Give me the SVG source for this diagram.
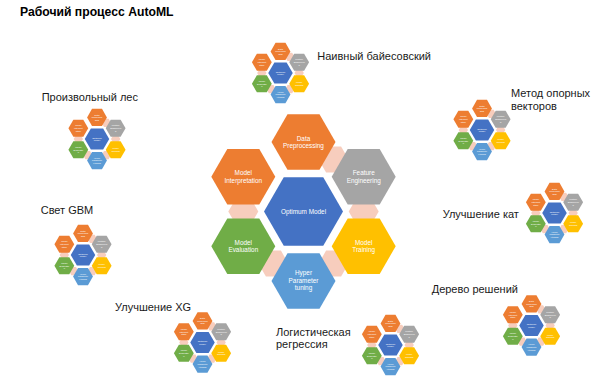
<svg xmlns="http://www.w3.org/2000/svg" xmlns:xlink="http://www.w3.org/1999/xlink" width="600" height="388" viewBox="0 0 600 388">
<style>
.t{font-family:"Liberation Sans",Arial,sans-serif;fill:#fff;text-anchor:middle;font-size:6.4px}
.m{font-family:"Liberation Sans",Arial,sans-serif;fill:#fff;text-anchor:middle;font-size:7.5px}
.lbl{font-family:"Liberation Sans",Arial,sans-serif;fill:#1a1a1a;font-size:11px}
.title{font-family:"Liberation Sans",Arial,sans-serif;font-weight:bold;font-size:12.2px;fill:#000}
.cn{fill:#F7CDBD}
.or{fill:#ED7D31}.gy{fill:#A5A5A5}.ye{fill:#FFC000}.lb{fill:#5B9BD5}.gr{fill:#70AD47}.db{fill:#4472C4}
</style>
<defs>
<path id="hx" d="M-32,0L-16,-27.7L16,-27.7L32,0L16,27.7L-16,27.7Z"/>
<path id="hc" d="M-39.5,0L-19.75,-34.2L19.75,-34.2L39.5,0L19.75,34.2L-19.75,34.2Z"/>
<path id="hs" d="M-15,0L-7.5,-13L7.5,-13L15,0L7.5,13L-7.5,13Z"/>
<g id="mini">
<use href="#hs" class="cn" x="30.1" y="-52.1"/>
<use href="#hs" class="cn" x="60.2" y="0"/>
<use href="#hs" class="cn" x="30.1" y="52.1"/>
<use href="#hs" class="cn" x="-30.1" y="52.1"/>
<use href="#hs" class="cn" x="-60.2" y="0"/>
<use href="#hx" class="or" x="0" y="-69.5"/>
<use href="#hx" class="gy" x="60.2" y="-34.75"/>
<use href="#hx" class="ye" x="60.2" y="34.75"/>
<use href="#hx" class="lb" x="0" y="69.5"/>
<use href="#hx" class="gr" x="-60.2" y="34.75"/>
<use href="#hx" class="or" x="-60.2" y="-34.75"/>
<use href="#hc" class="db"/>
<text class="m" x="0" y="-75.3">Data</text><text class="m" x="0" y="-66.8">Preproces</text><text class="m" x="0" y="-58.3">sing</text>
<text class="m" x="60.2" y="-40.5">Feature</text><text class="m" x="60.2" y="-32">Engineerin</text><text class="m" x="60.2" y="-23.5">g</text>
<text class="m" x="60.2" y="33.2">Model</text><text class="m" x="60.2" y="41.7">Training</text>
<text class="m" x="0" y="63.7">Hyper</text><text class="m" x="0" y="72.2">Paramete</text><text class="m" x="0" y="80.7">r tuning</text>
<text class="m" x="-60.2" y="29">Model</text><text class="m" x="-60.2" y="37.5">Evaluatio</text><text class="m" x="-60.2" y="46">n</text>
<text class="m" x="-60.2" y="-40.5">Model</text><text class="m" x="-60.2" y="-32">Interpret</text><text class="m" x="-60.2" y="-23.5">ation</text>
<text class="m" x="0" y="-1.5">Optimum</text><text class="m" x="0" y="7">Model</text>
</g>
</defs>
<rect width="600" height="388" fill="#fff"/>
<text class="title" x="20" y="15.7">Рабочий процесс AutoML</text>

<g id="connectors">
<use href="#hs" class="cn" x="333.6" y="159.4"/>
<use href="#hs" class="cn" x="363.7" y="211.5"/>
<use href="#hs" class="cn" x="333.6" y="263.6"/>
<use href="#hs" class="cn" x="273.4" y="263.6"/>
<use href="#hs" class="cn" x="243.3" y="211.5"/>
</g>

<g id="node-data" transform="translate(303.5,142)"><use href="#hx" class="or"/><text class="t" y="-1.4">Data</text><text class="t" y="6">Preprocessing</text></g>
<g id="node-feature" transform="translate(363.7,176.75)"><use href="#hx" class="gy"/><text class="t" y="-1.4">Feature</text><text class="t" y="6">Engineering</text></g>
<g id="node-training" transform="translate(363.7,246.25)"><use href="#hx" class="ye"/><text class="t" y="-1.4">Model</text><text class="t" y="6">Training</text></g>
<g id="node-hyper" transform="translate(303.5,281)"><use href="#hx" class="lb"/><text class="t" y="-6">Hyper</text><text class="t" y="1.6">Parameter</text><text class="t" y="9.3">tuning</text></g>
<g id="node-evaluation" transform="translate(243.3,246.25)"><use href="#hx" class="gr"/><text class="t" y="-1.4">Model</text><text class="t" y="6">Evaluation</text></g>
<g id="node-interpretation" transform="translate(243.3,176.75)"><use href="#hx" class="or"/><text class="t" y="-1.4">Model</text><text class="t" y="6">Interpretation</text></g>
<g id="node-optimum" transform="translate(303.5,211.5)"><use href="#hc" class="db"/><text class="t" y="2.2">Optimum Model</text></g>

<g id="algo-naive-bayes"><text class="lbl" x="317.3" y="60">Наивный байесовский</text><use href="#mini" transform="translate(280.5,73) scale(0.31)"/></g>
<g id="algo-svm"><text class="lbl" x="511" y="97.3">Метод опорных</text><text class="lbl" x="511" y="109.5">векторов</text><use href="#mini" transform="translate(482,130) scale(0.31)"/></g>
<g id="algo-catboost"><text class="lbl" x="442.7" y="217.5">Улучшение кат</text><use href="#mini" transform="translate(554.5,213) scale(0.31)"/></g>
<g id="algo-decision-tree"><text class="lbl" x="431.7" y="292.5">Дерево решений</text><use href="#mini" transform="translate(531.5,325.5) scale(0.31)"/></g>
<g id="algo-logistic"><text class="lbl" x="276" y="335.5">Логистическая</text><text class="lbl" x="276" y="347.5">регрессия</text><use href="#mini" transform="translate(390.5,345) scale(0.31)"/></g>
<g id="algo-xgboost"><text class="lbl" x="115" y="310.5">Улучшение XG</text><use href="#mini" transform="translate(202.5,342.5) scale(0.31)"/></g>
<g id="algo-lightgbm"><text class="lbl" x="40.7" y="214">Свет GBM</text><use href="#mini" transform="translate(83,255) scale(0.31)"/></g>
<g id="algo-random-forest"><text class="lbl" x="41.7" y="100.7">Произвольный лес</text><use href="#mini" transform="translate(97,139) scale(0.31)"/></g>
</svg>
